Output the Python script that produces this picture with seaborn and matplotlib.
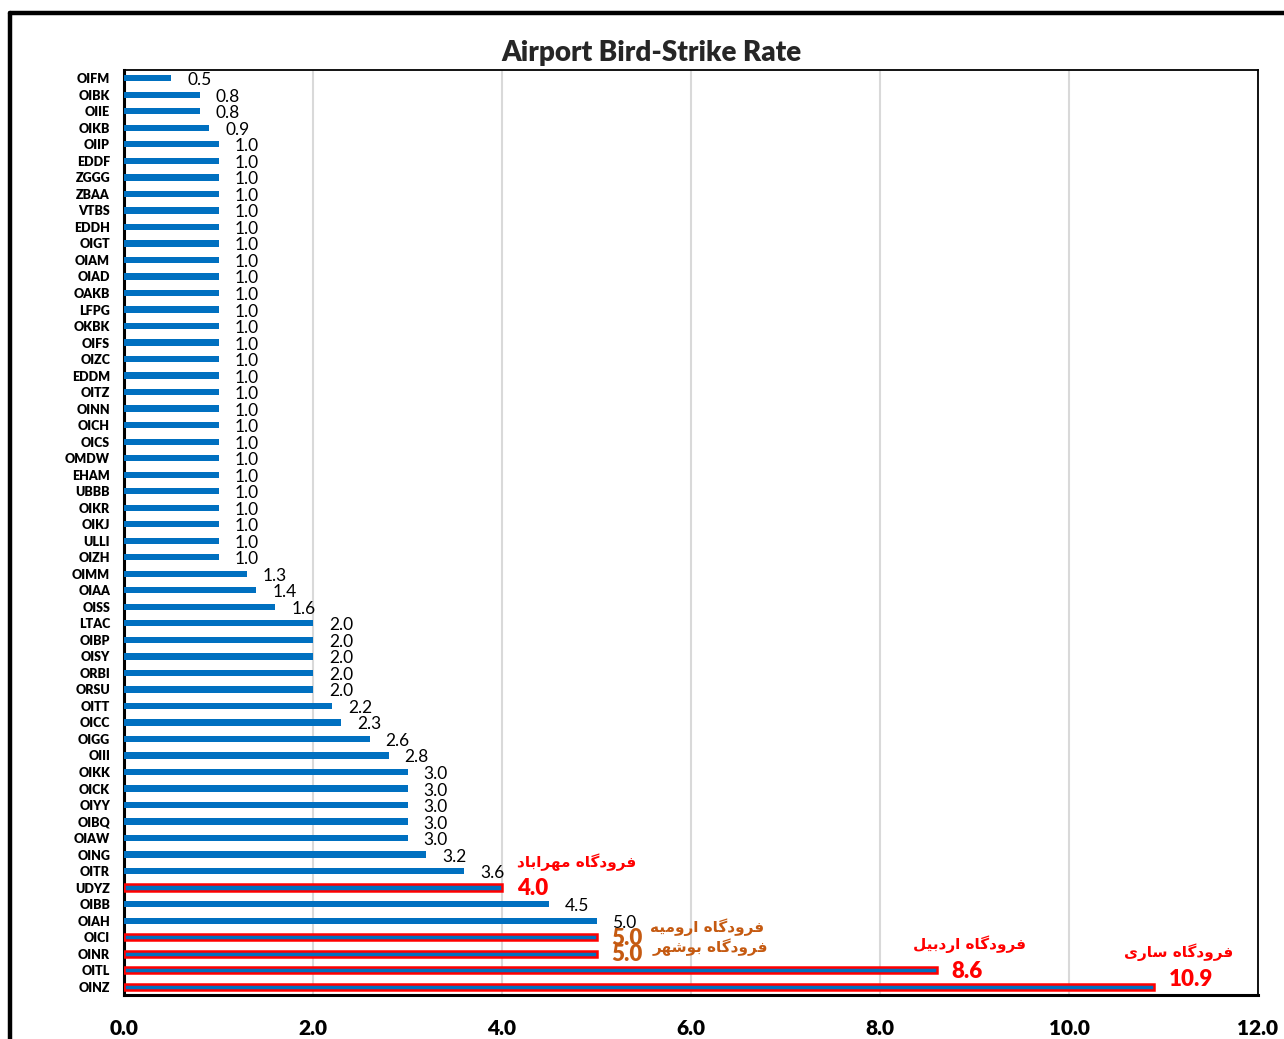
import matplotlib
matplotlib.use("Agg")
import matplotlib.pyplot as plt
from matplotlib.lines import Line2D
import seaborn as sns
import pandas as pd

# ---- data -------------------------------------------------------------
airports = [
    "OIFM", "OIBK", "OIIE", "OIKB", "OIIP", "EDDF", "ZGGG", "ZBAA", "VTBS",
    "EDDH", "OIGT", "OIAM", "OIAD", "OAKB", "LFPG", "OKBK", "OIFS", "OIZC",
    "EDDM", "OITZ", "OINN", "OICH", "OICS", "OMDW", "EHAM", "UBBB", "OIKR",
    "OIKJ", "ULLI", "OIZH", "OIMM", "OIAA", "OISS", "LTAC", "OIBP", "OISY",
    "ORBI", "ORSU", "OITT", "OICC", "OIGG", "OIII", "OIKK", "OICK", "OIYY",
    "OIBQ", "OIAW", "OING", "OITR", "UDYZ", "OIBB", "OIAH", "OICI", "OINR",
    "OITL", "OINZ",
]
rates = [
    0.5, 0.8, 0.8, 0.9, 1.0, 1.0, 1.0, 1.0, 1.0,
    1.0, 1.0, 1.0, 1.0, 1.0, 1.0, 1.0, 1.0, 1.0,
    1.0, 1.0, 1.0, 1.0, 1.0, 1.0, 1.0, 1.0, 1.0,
    1.0, 1.0, 1.0, 1.3, 1.4, 1.6, 2.0, 2.0, 2.0,
    2.0, 2.0, 2.2, 2.3, 2.6, 2.8, 3.0, 3.0, 3.0,
    3.0, 3.0, 3.2, 3.6, 4.0, 4.5, 5.0, 5.0, 5.0,
    8.6, 10.9,
]
x_ticks = [0.0, 2.0, 4.0, 6.0, 8.0, 10.0, 12.0]

# highlighted airports and their Persian names
callout_names = {
    "UDYZ": "فرودگاه مهراباد",
    "OICI": "فرودگاه ارومیه",
    "OINR": "فرودگاه بوشهر",
    "OITL": "فرودگاه اردبیل",
    "OINZ": "فرودگاه ساری",
}

# ---- styling ----------------------------------------------------------
BLUE = "#0070C0"
RED = "#FF0000"
ORANGE = "#C55A11"
callout_colors = {"UDYZ": RED, "OICI": ORANGE, "OINR": ORANGE, "OITL": RED, "OINZ": RED}
# value-label offset, name-label offset (pixels from the bar end) and name alignment
callout_layout = {
    "UDYZ": ((15, -1), (15, 25), "left"),
    "OICI": ((15, -1), (54, 10), "left"),
    "OINR": ((15, -1), (56, 6), "left"),
    "OITL": ((15, -1), (33, 26), "center"),
    "OINZ": ((15, 7), (25, 35), "center"),
}

# Arabic-script contextual shaping (isolated, final, initial, medial)
FORMS = {
    "ا": ("\uFE8D", "\uFE8E", None, None),
    "د": ("\uFEA9", "\uFEAA", None, None),
    "ر": ("\uFEAD", "\uFEAE", None, None),
    "و": ("\uFEED", "\uFEEE", None, None),
    "ف": ("\uFED1", "\uFED2", "\uFED3", "\uFED4"),
    "گ": ("\uFB92", "\uFB93", "\uFB94", "\uFB95"),
    "ه": ("\uFEE9", "\uFEEA", "\uFEEB", "\uFEEC"),
    "م": ("\uFEE1", "\uFEE2", "\uFEE3", "\uFEE4"),
    "ب": ("\uFE8F", "\uFE90", "\uFE91", "\uFE92"),
    "ی": ("\uFBFC", "\uFBFD", "\uFBFE", "\uFBFF"),
    "ش": ("\uFEB5", "\uFEB6", "\uFEB7", "\uFEB8"),
    "ل": ("\uFEDD", "\uFEDE", "\uFEDF", "\uFEE0"),
    "س": ("\uFEB1", "\uFEB2", "\uFEB3", "\uFEB4"),
}


def shape_rtl(text):
    chars = list(text)
    out = []
    for i, c in enumerate(chars):
        if c not in FORMS:
            out.append(c)
            continue
        prev = chars[i - 1] if i > 0 else None
        nxt = chars[i + 1] if i + 1 < len(chars) else None
        join_prev = prev in FORMS and FORMS[prev][2] is not None
        join_next = nxt in FORMS and FORMS[c][2] is not None
        iso, fin, ini, med = FORMS[c]
        if join_prev and join_next:
            out.append(med)
        elif join_prev:
            out.append(fin)
        elif join_next:
            out.append(ini)
        else:
            out.append(iso)
    return "".join(reversed(out))


sns.set_theme(style="white")
plt.rcParams["font.family"] = ["Lato", "DejaVu Sans"]

df = pd.DataFrame({"airport": airports, "rate": rates})

fig = plt.figure(figsize=(12.84, 10.39), dpi=100)
ax = fig.add_axes([124 / 1284, 1 - 995 / 1039, (1258 - 124) / 1284, (995 - 70) / 1039])

sns.barplot(data=df, x="rate", y="airport", orient="h", color=BLUE,
            width=0.38, saturation=1, ax=ax, zorder=3)

for patch, code in zip(ax.patches, airports):
    patch.set_edgecolor("none")
    if code in callout_names:
        patch.set_edgecolor(RED)
        patch.set_linewidth(1.8)

ax.set_xlim(0, 12)
ax.set_ylim(len(airports) - 0.5, -0.5)
ax.set_xticks(x_ticks)
ax.set_xticklabels([f"{t:.1f}" for t in x_ticks], fontsize=15, fontweight="heavy")
ax.tick_params(axis="x", length=0, pad=17, colors="black")
ax.tick_params(axis="y", length=0, pad=10, colors="black")
for lbl in ax.get_yticklabels():
    lbl.set_fontsize(9)
    lbl.set_fontweight("heavy")
ax.set_xlabel("")
ax.set_ylabel("")

ax.grid(axis="x", color="#D9D9D9", linewidth=1.5, zorder=0)
ax.grid(axis="y", visible=False)
ax.set_axisbelow(True)
for side in ["left", "bottom"]:
    ax.spines[side].set_color("black")
    ax.spines[side].set_linewidth(2.2)
for side in ["top", "right"]:
    ax.spines[side].set_color("black")
    ax.spines[side].set_linewidth(1.3)

# value labels
for i, (code, v) in enumerate(zip(airports, rates)):
    if code in callout_names:
        (vdx, vdy), (ndx, ndy), nha = callout_layout[code]
        col = callout_colors[code]
        ax.annotate(f"{v:.1f}", xy=(v, i), xytext=(vdx, vdy),
                    textcoords="offset pixels", ha="left", va="center",
                    fontsize=16, fontweight="heavy", color=col, zorder=5)
        ax.annotate(shape_rtl(callout_names[code]), xy=(v, i), xytext=(ndx, ndy),
                    textcoords="offset pixels", ha=nha, va="center",
                    fontsize=11, fontweight="bold", color=col,
                    family=["DejaVu Sans"], zorder=5)
    else:
        ax.annotate(f"{v:.1f}", xy=(v, i), xytext=(16, -2),
                    textcoords="offset pixels", ha="left", va="center",
                    fontsize=12.5, color="black", zorder=5)

fig.text(651 / 1284, 1 - 53 / 1039, "Airport Bird-Strike Rate",
         ha="center", va="center", fontsize=20, fontweight="heavy")

# outer chart frame
fig.add_artist(Line2D([10 / 1284, 1.0], [1 - 13 / 1039, 1 - 13 / 1039],
                      transform=fig.transFigure, color="black", linewidth=3.2))
fig.add_artist(Line2D([10 / 1284, 10 / 1284], [1 - 13 / 1039, 0.0],
                      transform=fig.transFigure, color="black", linewidth=3.2))

fig.savefig("out.png", dpi=100)
